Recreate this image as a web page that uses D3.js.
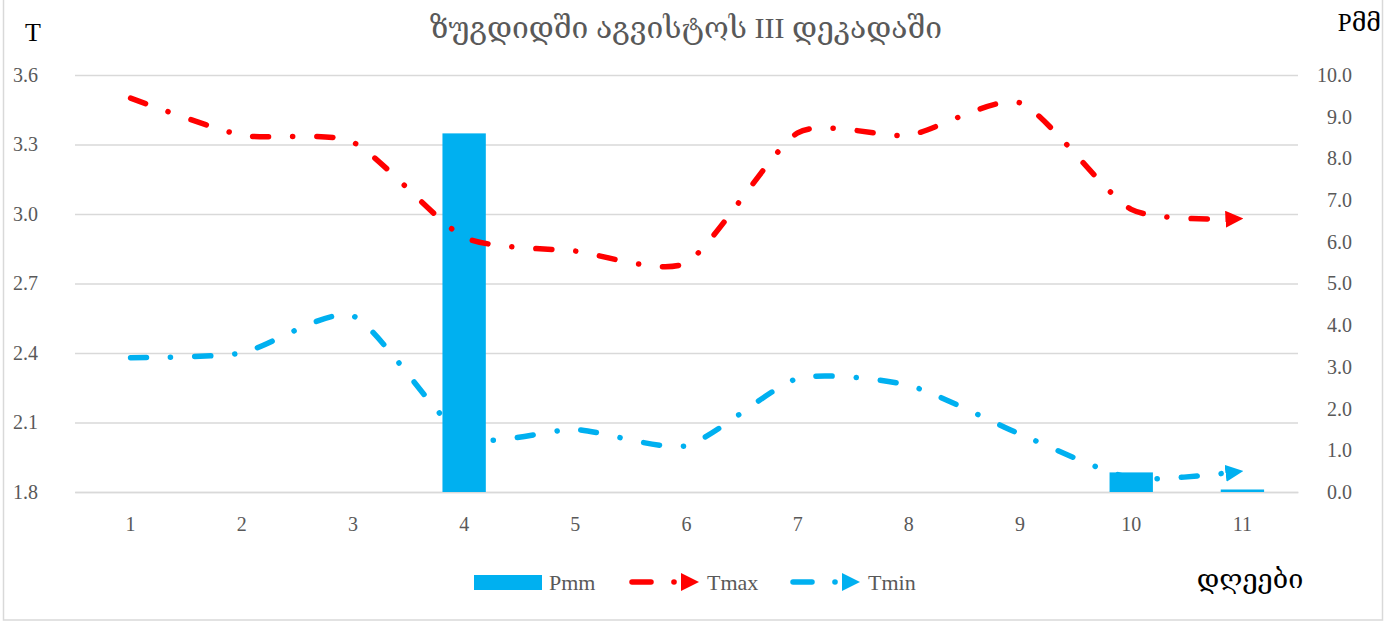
<!DOCTYPE html>
<html>
<head>
<meta charset="utf-8">
<script src="https://cdn.jsdelivr.net/npm/d3@7"></script>
<style>
  body { margin: 0; background: #fff; }
  svg text { font-family: "Liberation Serif", "DejaVu Serif", serif; }
</style>
</head>
<body>
<div id="chart"></div>
<script>
// data
let days = [1, 2, 3, 4, 5, 6, 7, 8, 9, 10, 11];
let pmm  = [0, 0, 0, 8.6, 0, 0, 0, 0, 0, 0.47, 0.06];
let tmax = [3.50, 3.34, 3.31, 2.90, 2.84, 2.79, 3.35, 3.34, 3.48, 3.02, 2.98];
let tmin = [2.38, 2.40, 2.56, 2.04, 2.07, 2.00, 2.29, 2.26, 2.05, 1.86, 1.89];
let tTicks = [1.8, 2.1, 2.4, 2.7, 3.0, 3.3, 3.6];
let pTicks = [0, 1, 2, 3, 4, 5, 6, 7, 8, 9, 10];

let width = 1396, height = 623;
let margin = { top: 75, bottom: 131, left: 75, right: 98 }; // plot box 75..1298 x 75..492

let svg = d3.select('#chart')
  .append('svg')
  .attr('width', width)
  .attr('height', height);

// outer border
svg.append('rect')
  .attr('x', 3.5).attr('y', -1)
  .attr('width', 1379).attr('height', 621)
  .attr('fill', 'none')
  .attr('stroke', '#d9d9d9')
  .attr('stroke-width', 1.5);

let xScale = d3.scaleBand()
  .domain(days)
  .range([margin.left, width - margin.right]);

let yT = d3.scaleLinear()
  .domain([1.8, 3.6])
  .range([height - margin.bottom, margin.top]);

let yP = d3.scaleLinear()
  .domain([0, 10])
  .range([height - margin.bottom, margin.top]);

let plotW = width - margin.right - margin.left;

// left axis + gridlines
let yAxisL = svg.append('g')
  .attr('transform', `translate(${margin.left},0)`)
  .call(d3.axisLeft(yT).tickValues(tTicks).tickFormat(d3.format('.1f'))
    .tickSizeInner(-plotW).tickSizeOuter(0).tickPadding(37));
yAxisL.select('.domain').remove();
yAxisL.selectAll('line').attr('stroke', '#d9d9d9').attr('stroke-width', 1.5);
yAxisL.selectAll('text').attr('fill', '#595959').style('font-size', '20px');

// right axis
let yAxisR = svg.append('g')
  .attr('transform', `translate(${width - margin.right},0)`)
  .call(d3.axisRight(yP).tickValues(pTicks).tickFormat(d3.format('.1f')).tickSize(0));
yAxisR.select('.domain').remove();
yAxisR.selectAll('text')
  .attr('x', 54)
  .attr('text-anchor', 'end')
  .attr('fill', '#595959')
  .style('font-size', '20px');

// bottom axis
let xAxis = svg.append('g')
  .attr('transform', `translate(0,${height - margin.bottom})`)
  .call(d3.axisBottom(xScale).tickSize(0).tickPadding(25));
xAxis.select('.domain').attr('stroke', '#d9d9d9').attr('stroke-width', 1.5);
xAxis.selectAll('text').attr('fill', '#595959').style('font-size', '20px');

// arrow heads
let defs = svg.append('defs');
function arrow(id, color) {
  defs.append('marker')
    .attr('id', id)
    .attr('viewBox', '0 0 18 17')
    .attr('refX', 17).attr('refY', 8.5)
    .attr('markerWidth', 18).attr('markerHeight', 17)
    .attr('markerUnits', 'userSpaceOnUse')
    .attr('orient', 'auto')
    .append('path')
    .attr('d', 'M0,0 L18,8.5 L0,17 Z')
    .attr('fill', color);
}
arrow('arrRed', '#ff0000');
arrow('arrBlue', '#00b0f0');

let dash = '16,24,0.1,24';

function drawLine(values, color, markerId) {
  let line = d3.line()
    .x(function(d, i) { return xScale(days[i]) + xScale.bandwidth() / 2; })
    .y(function(d) { return yT(d); })
    .curve(d3.curveCardinal.tension(0.35));
  svg.append('path')
    .datum(values)
    .attr('d', line)
    .attr('fill', 'none')
    .attr('stroke', color)
    .attr('stroke-width', 5.5)
    .attr('stroke-linecap', 'round')
    .attr('stroke-dasharray', dash)
    .attr('marker-end', `url(#${markerId})`);
}

// Tmin sits behind the bars, Tmax in front
drawLine(tmin, '#00b0f0', 'arrBlue');

let barW = xScale.bandwidth() * 0.39;
svg.selectAll('rect.bar')
  .data(pmm)
  .enter()
  .append('rect')
  .attr('class', 'bar')
  .attr('x', function(d, i) { return xScale(days[i]) + (xScale.bandwidth() - barW) / 2; })
  .attr('y', function(d) { return yP(d); })
  .attr('width', barW)
  .attr('height', function(d) { return yP(0) - yP(d); })
  .attr('fill', '#00b0f0');

drawLine(tmax, '#ff0000', 'arrRed');

// title and axis names
svg.append('text')
  .attr('x', 686).attr('y', 38)
  .attr('text-anchor', 'middle')
  .attr('fill', '#595959')
  .style('font-size', '30px')
  .text('ზუგდიდში აგვისტოს III დეკადაში');

svg.append('text')
  .attr('x', 33).attr('y', 41)
  .attr('text-anchor', 'middle')
  .style('font-size', '26px')
  .text('T');

svg.append('text')
  .attr('x', 1381).attr('y', 31)
  .attr('text-anchor', 'end')
  .style('font-size', '25px')
  .text('Pმმ');

svg.append('text')
  .attr('x', 1250).attr('y', 588)
  .attr('text-anchor', 'middle')
  .style('font-size', '27px')
  .text('დღეები');

// legend
let legend = svg.append('g').attr('transform', 'translate(0,582)');
legend.append('rect')
  .attr('x', 474).attr('y', -7)
  .attr('width', 68).attr('height', 15)
  .attr('fill', '#00b0f0');
legend.append('text')
  .attr('x', 549).attr('y', 8)
  .attr('fill', '#595959')
  .style('font-size', '22px')
  .text('Pmm');

let legendLines = [
  { name: 'Tmax', color: '#ff0000', marker: 'arrRed', x: 632 },
  { name: 'Tmin', color: '#00b0f0', marker: 'arrBlue', x: 793 }
];
legendLines.forEach(function(l) {
  legend.append('line')
    .attr('x1', l.x).attr('x2', l.x + 19)
    .attr('y1', 0).attr('y2', 0)
    .attr('stroke', l.color).attr('stroke-width', 5.5)
    .attr('stroke-linecap', 'round');
  legend.append('circle')
    .attr('cx', l.x + 42).attr('cy', 0).attr('r', 2.8)
    .attr('fill', l.color);
  legend.append('path')
    .attr('d', `M${l.x + 49},-9 L${l.x + 67},0 L${l.x + 49},9 Z`)
    .attr('fill', l.color);
  legend.append('text')
    .attr('x', l.x + 75).attr('y', 8)
    .attr('fill', '#595959')
    .style('font-size', '22px')
    .text(l.name);
});
</script>
</body>
</html>
